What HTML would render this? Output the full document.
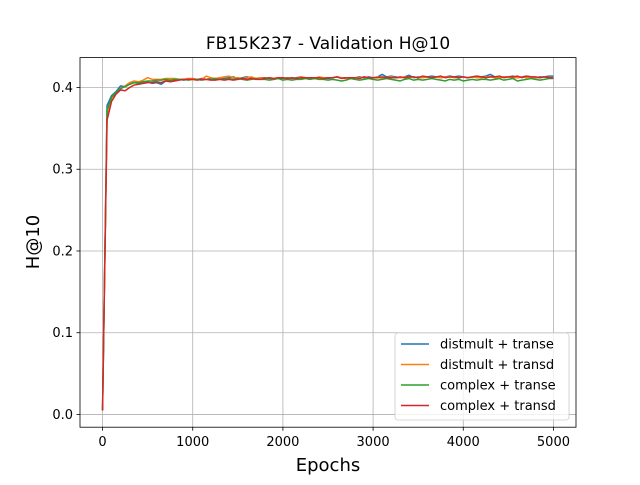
<!DOCTYPE html>
<html><head><meta charset="utf-8"><style>
body{margin:0;background:#fff;font-family:"Liberation Sans","DejaVu Sans",sans-serif}
svg text{font-family:"DejaVu Sans","Liberation Sans",sans-serif}
</style></head><body>
<svg id="chart" width="640" height="480" xmlns="http://www.w3.org/2000/svg">
<rect width="640" height="480" fill="#fff"/>
<g id="grid"></g><g id="lines"></g><g id="axes"></g>
</svg>
<script>
const epochs = []; for (let i = 0; i <= 100; i++) epochs.push(i * 50);
const seriesNames = ["distmult + transe","distmult + transd","complex + transe","complex + transd"];
const colors = ["#1f77b4","#ff7f0e","#2ca02c","#d62728"];
const xTicks = [0,1000,2000,3000,4000,5000];
const yTicks = [0.0,0.1,0.2,0.3,0.4];
const s1 = [0.005,0.378,0.390,0.395,0.402,0.401,0.404,0.406,0.405,0.406,0.407,0.405,0.406,0.404,0.408,0.408,0.409,0.410,0.409,0.410,0.410,0.410,0.411,0.410,0.411,0.410,0.412,0.411,0.412,0.413,0.411,0.412,0.413,0.412,0.411,0.412,0.412,0.411,0.410,0.412,0.411,0.412,0.411,0.412,0.413,0.412,0.412,0.411,0.412,0.412,0.411,0.412,0.413,0.412,0.412,0.411,0.412,0.413,0.412,0.413,0.412,0.413,0.416,0.413,0.414,0.413,0.412,0.413,0.415,0.412,0.413,0.412,0.413,0.414,0.413,0.412,0.413,0.414,0.413,0.414,0.413,0.412,0.413,0.414,0.413,0.414,0.416,0.413,0.412,0.413,0.413,0.414,0.412,0.413,0.414,0.413,0.412,0.413,0.413,0.414,0.414];
const s2 = [0.005,0.365,0.384,0.393,0.398,0.402,0.406,0.408,0.407,0.409,0.412,0.410,0.410,0.410,0.411,0.411,0.411,0.410,0.410,0.411,0.411,0.410,0.410,0.414,0.412,0.411,0.412,0.413,0.414,0.412,0.412,0.411,0.412,0.413,0.411,0.412,0.411,0.412,0.411,0.412,0.412,0.411,0.412,0.411,0.413,0.412,0.412,0.411,0.413,0.412,0.412,0.412,0.413,0.412,0.411,0.412,0.412,0.412,0.413,0.412,0.412,0.413,0.411,0.412,0.413,0.412,0.412,0.413,0.412,0.413,0.412,0.412,0.413,0.412,0.413,0.412,0.413,0.413,0.412,0.412,0.413,0.412,0.413,0.412,0.412,0.413,0.413,0.412,0.412,0.413,0.413,0.412,0.412,0.413,0.412,0.413,0.412,0.412,0.413,0.412,0.412];
const s3 = [0.005,0.372,0.388,0.394,0.399,0.401,0.404,0.406,0.406,0.407,0.408,0.408,0.409,0.409,0.410,0.409,0.410,0.410,0.410,0.409,0.410,0.410,0.409,0.410,0.410,0.411,0.410,0.410,0.411,0.410,0.411,0.410,0.409,0.410,0.411,0.410,0.410,0.409,0.410,0.411,0.409,0.410,0.409,0.410,0.410,0.411,0.410,0.411,0.410,0.410,0.409,0.410,0.409,0.408,0.409,0.411,0.410,0.409,0.410,0.411,0.410,0.409,0.410,0.411,0.410,0.409,0.408,0.410,0.411,0.409,0.410,0.409,0.410,0.411,0.410,0.409,0.408,0.410,0.409,0.410,0.408,0.409,0.410,0.409,0.410,0.410,0.409,0.410,0.411,0.409,0.410,0.411,0.408,0.409,0.410,0.411,0.410,0.409,0.410,0.411,0.411];
const s4 = [0.005,0.360,0.383,0.392,0.397,0.396,0.400,0.403,0.404,0.405,0.406,0.406,0.407,0.406,0.408,0.407,0.408,0.409,0.410,0.410,0.410,0.409,0.410,0.410,0.409,0.409,0.410,0.409,0.410,0.409,0.410,0.411,0.410,0.411,0.410,0.410,0.411,0.412,0.411,0.412,0.412,0.411,0.412,0.411,0.412,0.412,0.412,0.412,0.412,0.411,0.412,0.412,0.413,0.411,0.412,0.412,0.412,0.411,0.413,0.412,0.412,0.412,0.413,0.412,0.412,0.412,0.413,0.412,0.413,0.413,0.412,0.414,0.413,0.412,0.413,0.414,0.412,0.413,0.413,0.412,0.413,0.412,0.413,0.414,0.413,0.412,0.413,0.413,0.414,0.412,0.413,0.413,0.414,0.412,0.414,0.413,0.413,0.412,0.413,0.412,0.412];
const series = [s1,s2,s3,s4];

const L=80,R=576,T=57.6,B=427.2;
const xmin=-250,xmax=5250,ymin=-0.0156,ymax=0.4366;
const xs=v=>L+(v-xmin)/(xmax-xmin)*(R-L);
const ys=v=>B-(v-ymin)/(ymax-ymin)*(B-T);
const NS="http://www.w3.org/2000/svg";
function mk(tag,attrs,parent,text){const e=document.createElementNS(NS,tag);for(const k in attrs)e.setAttribute(k,attrs[k]);if(text!==undefined)e.textContent=text;parent.appendChild(e);return e;}
const grid=document.getElementById('grid'),lines=document.getElementById('lines'),axes=document.getElementById('axes');
xTicks.forEach(t=>{const x=xs(t);
 const g=mk('line',{x1:x,x2:x,y1:T,y2:B,stroke:'#b0b0b0','stroke-width':0.8},grid);
 
 mk('line',{x1:x,x2:x,y1:B,y2:B+3.5,stroke:'#000','stroke-width':0.8},axes);
 const tl=mk('text',{x:x,y:B+19,'font-size':13,'text-anchor':'middle'},axes,String(t));
 });
yTicks.forEach(t=>{const y=ys(t);
 const g=mk('line',{x1:L,x2:R,y1:y,y2:y,stroke:'#b0b0b0','stroke-width':0.8},grid);
 
 mk('line',{x1:L-3.5,x2:L,y1:y,y2:y,stroke:'#000','stroke-width':0.8},axes);
 const tl=mk('text',{x:L-7,y:y+4.5,'font-size':13,'text-anchor':'end'},axes,t.toFixed(1));
 });
series.forEach((s,i)=>{const d=s.map((v,j)=>(j?'L':'M')+xs(epochs[j]).toFixed(2)+' '+ys(v).toFixed(2)).join(' ');
 const p=mk('path',{d:d,fill:'none',stroke:colors[i],'stroke-width':1.5,'stroke-linejoin':'round'},lines);
 });
const frame=mk('rect',{x:L,y:T,width:R-L,height:B-T,fill:'none',stroke:'#000','stroke-width':0.8},axes);

const title=mk('text',{x:(L+R)/2,y:49,'font-size':17,'text-anchor':'middle'},axes,'FB15K237 - Validation H@10');

const xl=mk('text',{x:(L+R)/2,y:471,'font-size':18,'text-anchor':'middle'},axes,'Epochs');

const yl=mk('text',{x:0,y:0,'font-size':18,'text-anchor':'middle',transform:'translate(39,242) rotate(-90)'},axes,'H@10');

const lg=mk('g',{},axes);

mk('rect',{x:395,y:333,width:174,height:87,rx:3,fill:'#fff','fill-opacity':0.8,stroke:'#ccc','stroke-width':0.8},lg);
seriesNames.forEach((n,i)=>{const y=344+i*20.5;
 const e=mk('g',{},lg);
 
 mk('line',{x1:401,x2:429,y1:y,y2:y,stroke:colors[i],'stroke-width':1.5},e);
 mk('text',{x:440,y:y+4.5,'font-size':13},e,n);});
</script>
</body></html>
